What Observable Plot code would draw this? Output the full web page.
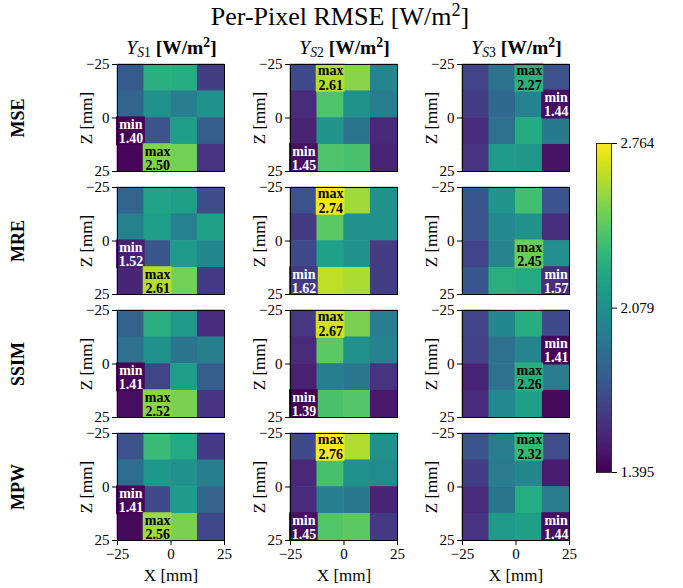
<!DOCTYPE html>
<html>
<head>
<meta charset="utf-8">
<script src="https://cdn.jsdelivr.net/npm/d3@7"></script>
<script src="https://cdn.jsdelivr.net/npm/@observablehq/plot@0.6"></script>
<style>
  html, body { margin: 0; padding: 0; background: #fff; }
  #fig { position: relative; width: 683px; height: 588px; background: #fff; font-family: 'Liberation Serif', 'DejaVu Serif', serif; color: #000; overflow: hidden; }
  .abs { position: absolute; }
  .title { font-size: 26px; white-space: nowrap; transform: translateX(-50%); }
  .coltitle { font-size: 19.5px; white-space: nowrap; transform: translateX(-50%); }
  .rowlabel { font-size: 18px; font-weight: bold; white-space: nowrap; transform: translate(-50%, -50%) rotate(-90deg); }
  sup { font-size: 0.7em; vertical-align: 0.5em; line-height: 0; }
  sub { font-size: 0.7em; vertical-align: -0.25em; line-height: 0; }
</style>
</head>
<body>
<div id="fig"></div>
<script>
// ---------------- data ----------------
const rowNames = ["MSE", "MRE", "SSIM", "MPW"];
const colNames = ["S1", "S2", "S3"];
const xEdges = [-25, -12.5, 0, 12.5, 25];
const zEdges = [-25, -12.5, 0, 12.5, 25];
const axisTicks = [-25, 0, 25];
const colorDomain = [1.395, 2.764];
const colorbarTicks = [1.395, 2.079, 2.764];

// rows are Z from -25 (top) to 25 (bottom); columns are X from -25 to 25
const mse_s1 = [[1.78, 2.26, 2.24, 1.64], [1.83, 2.08, 1.97, 2.08], [1.40, 1.74, 2.15, 1.80], [1.42, 2.50, 2.47, 1.60]];
const mse_s2 = [[1.70, 2.61, 2.52, 2.01], [1.56, 2.38, 2.08, 1.97], [1.53, 2.11, 1.92, 1.55], [1.45, 2.38, 2.37, 1.53]];
const mse_s3 = [[1.67, 1.91, 2.27, 1.74], [1.64, 1.85, 2.00, 1.44], [1.56, 1.90, 2.23, 1.95], [1.59, 2.13, 2.12, 1.46]];
const mre_s1 = [[1.83, 2.19, 2.16, 1.71], [1.99, 2.15, 1.99, 2.17], [1.52, 1.75, 2.13, 2.03], [1.54, 2.61, 2.47, 1.62]];
const mre_s2 = [[1.74, 2.74, 2.57, 2.08], [1.63, 2.42, 2.08, 2.09], [1.70, 2.17, 2.08, 1.64], [1.62, 2.63, 2.59, 1.64]];
const mre_s3 = [[1.76, 2.11, 2.35, 1.75], [1.75, 2.04, 2.09, 1.58], [1.67, 2.01, 2.45, 2.07], [1.76, 2.26, 2.22, 1.57]];
const ssim_s1 = [[1.82, 2.26, 2.13, 1.57], [1.90, 2.08, 1.92, 1.98], [1.41, 1.67, 2.15, 1.80], [1.44, 2.52, 2.49, 1.60]];
const ssim_s2 = [[1.61, 2.67, 2.49, 1.97], [1.56, 2.42, 2.08, 2.00], [1.52, 1.97, 1.93, 1.60], [1.39, 2.37, 2.40, 1.49]];
const ssim_s3 = [[1.67, 2.03, 2.24, 1.70], [1.66, 1.90, 2.01, 1.41], [1.53, 1.90, 2.26, 1.96], [1.56, 2.04, 2.16, 1.43]];
const mpw_s1 = [[1.74, 2.33, 2.22, 1.62], [1.88, 2.12, 2.08, 1.98], [1.41, 1.70, 2.14, 1.83], [1.43, 2.56, 2.49, 1.69]];
const mpw_s2 = [[1.70, 2.76, 2.60, 2.08], [1.55, 2.36, 2.08, 2.05], [1.57, 1.97, 1.95, 1.53], [1.45, 2.39, 2.42, 1.62]];
const mpw_s3 = [[1.75, 1.97, 2.32, 1.72], [1.64, 1.96, 2.03, 1.50], [1.56, 1.92, 2.24, 1.96], [1.59, 2.13, 2.16, 1.44]];

const grids = [
  [mse_s1, mse_s2, mse_s3],
  [mre_s1, mre_s2, mre_s3],
  [ssim_s1, ssim_s2, ssim_s3],
  [mpw_s1, mpw_s2, mpw_s3]
];

// ---------------- layout ----------------
const fig = document.getElementById("fig");
const panelLeft = [117, 290, 462];
const panelTop = [64, 187, 310, 433];
const PW = 107, PH = 107;
const ML = 60, MR = 6, MT = 6;
const FONT = "'Liberation Serif', 'DejaVu Serif', serif";

function addHTML(html, cls, left, top) {
  const d = document.createElement("div");
  d.className = "abs " + cls;
  d.style.left = left + "px";
  d.style.top = top + "px";
  d.innerHTML = html;
  fig.appendChild(d);
  return d;
}

addHTML("Per-Pixel RMSE [W/m<sup>2</sup>]", "title", 340, 2);
colNames.forEach((c, j) => {
  addHTML(`<i>Y</i><sub><i>S</i>${c.slice(1)}</sub> <b>[W/m<sup>2</sup>]</b>`, "coltitle", panelLeft[j] + PW / 2 + 1, 37);
});
rowNames.forEach((r, i) => {
  addHTML(r, "rowlabel", 18, panelTop[i] + PH / 2);
});

const colorOpts = {type: "linear", scheme: "viridis", domain: colorDomain};

grids.forEach((rowGrids, i) => {
  rowGrids.forEach((grid, j) => {
    const isBottom = i === rowNames.length - 1;
    const MB = isBottom ? 50 : 6;
    const cells = [];
    grid.forEach((row, r) => row.forEach((v, c) => {
      cells.push({x1: xEdges[c], x2: xEdges[c + 1], y1: zEdges[r], y2: zEdges[r + 1], v});
    }));
    const minCell = d3.least(cells, d => d.v);
    const maxCell = d3.greatest(cells, d => d.v);
    const ann = [
      {...minCell, label: "min\n" + minCell.v.toFixed(2), color: "white"},
      {...maxCell, label: "max\n" + maxCell.v.toFixed(2), color: "black"}
    ];
    const marks = [
      Plot.rect(cells, {x1: "x1", x2: "x2", y1: "y1", y2: "y2", fill: "v", inset: -0.3}),
      Plot.rect(ann, {x1: "x1", x2: "x2", y1: "y1", y2: "y2", fill: "v", inset: -1}),
      Plot.text(ann, {x: d => (d.x1 + d.x2) / 2, y: d => (d.y1 + d.y2) / 2, text: "label", fill: "color",
        fontWeight: "bold", fontSize: 14, lineHeight: 1.02, fontFamily: FONT}),
      Plot.frame({stroke: "black", strokeWidth: 1}),
      Plot.axisY({ticks: axisTicks, tickSize: 5, tickPadding: 3, label: null, fontSize: 15}),
      Plot.text(["Z [mm]"], {text: d => d, frameAnchor: "left", textAnchor: "middle", lineAnchor: "middle",
        rotate: -90, dx: -31, fontSize: 17, fontFamily: FONT})
    ];
    if (isBottom) {
      marks.push(Plot.axisX({ticks: axisTicks, tickSize: 5, tickPadding: 3, label: null, fontSize: 15}));
      marks.push(Plot.text(["X [mm]"], {text: d => d, frameAnchor: "bottom", textAnchor: "middle", dy: 40, fontSize: 17, fontFamily: FONT}));
    }
    const chart = Plot.plot({
      width: ML + PW + MR,
      height: MT + PH + MB,
      marginLeft: ML, marginRight: MR, marginTop: MT, marginBottom: MB,
      x: isBottom ? {domain: [-25, 25]} : {domain: [-25, 25], axis: null},
      y: {domain: [-25, 25], reverse: true},
      color: colorOpts,
      style: {fontFamily: FONT, fontSize: "15px", background: "transparent", overflow: "visible", color: "black"},
      marks
    });
    chart.style.position = "absolute";
    chart.style.left = (panelLeft[j] - ML) + "px";
    chart.style.top = (panelTop[i] - MT) + "px";
    fig.appendChild(chart);
  });
});

// ---------------- colorbar ----------------
const cbLeft = 596, cbTop = 143, cbW = 15, cbH = 329;
const nSteps = 200;
const cbStep = (colorDomain[1] - colorDomain[0]) / nSteps;
const cbValues = d3.range(nSteps).map(k => colorDomain[0] + k * cbStep);
const cb = Plot.plot({
  width: cbW + 70, height: cbH + 20,
  marginLeft: 0, marginRight: 70, marginTop: 10, marginBottom: 10,
  x: {domain: [0, 1], axis: null},
  y: {domain: colorDomain},
  color: colorOpts,
  style: {fontFamily: FONT, fontSize: "15px", background: "transparent", overflow: "visible", color: "black"},
  marks: [
    Plot.rect(cbValues, {x1: 0, x2: 1, y1: d => d, y2: d => Math.min(d + cbStep * 1.6, colorDomain[1]), fill: d => d}),
    Plot.frame({stroke: "black", strokeWidth: 0.8}),
    Plot.axisY({anchor: "right", ticks: colorbarTicks, tickFormat: d => d.toFixed(3), tickSize: 5, tickPadding: 4, label: null, fontSize: 15})
  ]
});
cb.style.position = "absolute";
cb.style.left = cbLeft + "px";
cb.style.top = (cbTop - 10) + "px";
fig.appendChild(cb);
</script>
</body>
</html>
